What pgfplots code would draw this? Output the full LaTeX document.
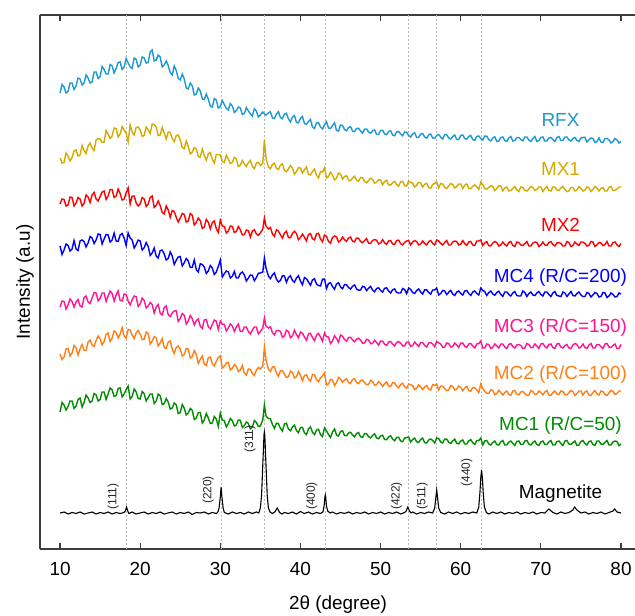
\documentclass[border=0pt]{standalone}
\usepackage{fontspec}
\setmainfont{Liberation Sans}
\usepackage{pgfplots}
\usepackage{pgfplotstable}
\pgfplotsset{compat=1.18}

\definecolor{crfx}{RGB}{28,152,210}
\definecolor{cmx1}{RGB}{212,170,0}
\definecolor{cmx2}{RGB}{255,0,0}
\definecolor{cmc4}{RGB}{0,0,255}
\definecolor{cmc3}{RGB}{255,20,147}
\definecolor{cmc2}{RGB}{255,127,20}
\definecolor{cmc1}{RGB}{0,140,0}
\definecolor{axgray}{RGB}{60,60,60}
\definecolor{dgray}{RGB}{185,185,185}

% values are pixel heights measured from the top of the picture
\pgfplotstableread{
x rfx mx1 mx2 mc4 mc3 mc2 mc1
10.0 93 158 204 246 307 354 412
10.25 84.5 163 199 254.5 301 359.5 402.5
10.5 87 162.5 199.5 250 301.5 357 405
10.75 93 153 206 244 309 349 410
11.0 91.5 156 205 245.5 305 348.5 406.5
11.25 83 161 197 251 299 356 401
11.5 83 157.5 197.5 249 301.5 353 401
11.75 89.5 151 206 240.5 307 345.5 408.5
12.0 86 150 203 249 302 348 406
12.25 78 156 197.5 250.5 299.5 355 399.5
12.5 79 155 199 241 306 349 398
12.75 85 145.5 206 240 307 344.5 407
13.0 83 150.5 203.5 241.5 297.5 350.5 402.5
13.25 75 153.5 195 247 296 350.5 395
13.5 78 146 197 243 302 342 398
13.75 83 143 202.5 236.5 303.5 340 402.5
14.0 82 148 195 238 298 345 401
14.25 72 150.5 192.5 243.5 292.5 346.5 393.5
14.5 72 140 199 240 293 340.5 395
14.75 78.5 138.5 201 234 301 336 401
15.0 76.5 139 196.5 234.5 298.5 339 399.5
15.25 66.5 142.5 192 244 293 345 392
15.5 69.5 142 191 239 293 341.5 392
15.75 74 130.5 199.5 234.5 301.5 334.5 399.5
16.0 74 134 196 235 296 333 394
16.25 64.5 138.5 189.5 242 291 341.5 388
16.5 66 136 189.5 240 293.5 338 390
16.75 73 128 197.5 233 301 331 396.5
17.0 68.5 128.5 196 241 295 332.5 395.5
17.25 62.5 137 189 241.5 291 338 388.5
17.5 62 134 193.5 235 300.5 334 388
17.75 69.5 126.5 200 233.5 301 327.5 397
18.0 67 130 199 238 294 336 394
18.25 58.5 133 193 245.5 294.5 338 389.5
18.5 63 142 188 233 301 329.5 386
18.75 67 125 204 238 305 330 399
19.0 68.5 132 196 240 299.5 335 396.5
19.25 58 135 196 248 296 338.5 389
19.5 59.5 127.5 203 244.5 296.75 333 392
19.75 67 127 206 240 306.5 330.5 398.5
20.0 65 130 204 241 304 334 399
20.25 57 136.5 197.5 250 298 339.5 391.5
20.5 58 135.3 199 247.75 300.5 339.25 393.75
20.75 63 127 206.5 242.5 308 332 401
21.0 62.5 129.7 204 246.5 306 333.5 397.5
21.25 52 133.5 197.5 255.5 302.5 344 394
21.5 50 124 196 253 304.5 341 394
21.75 61 124.5 207.5 248 313 336.5 403.5
22.0 60 127 205.3 256 307 338 401
22.25 55 135.5 201 258 304.5 346 394
22.5 57 135 205.7 250.5 313.25 342.75 395.75
22.75 67 127.5 212.5 250 315 338.5 404.5
23.0 65 133 214 254 307.5 347.5 403.5
23.25 61 139 206 260 306 348.5 398.5
23.5 65.5 132 210 258.5 314.75 342 402
23.75 72.5 132.5 217.5 252 316.5 341 409
24.0 75 138.5 210.5 256 313 349 408
24.25 66 141.5 211.5 264.5 311 353.5 403
24.5 70.5 135.75 217.25 260.25 310.75 347.5 404.75
24.75 78.5 135 222 257 321.5 346 413.5
25.0 80 140 218 256.5 318.5 349 412.5
25.25 74 147.5 213.5 266 313.5 356 404.5
25.5 79 148.75 214.5 262.75 315.25 354.5 408.25
25.75 88 141 222 258.5 324 348.5 415
26.0 89 146.5 221 261 321 349 413
26.25 83 154 213.5 267.5 315.5 358 408.5
26.5 86 152.25 215.25 267.25 318.75 356.75 410.5
26.75 95 147.5 225 260 325 350.5 419.5
27.0 94 149 222.5 269.5 320.5 354.5 418
27.25 88 156.5 218 272 319 363.5 412.5
27.5 91 157.25 220.75 263.75 326.25 359.25 412.5
27.75 99 149 228.5 264.5 328.5 356 423
28.0 99.5 155.5 227 267 320 364 420
28.25 94 160 219.5 273.5 319.5 365.5 413.5
28.5 99 153.75 222.25 271 326.75 357.75 418
28.75 106 152.5 229 265.5 329 357 423.5
29.0 107 159 222.5 268 324.5 363.5 423
29.25 98.5 163 221 274.5 320 366 416.5
29.5 100 154.5 228.75 272 321.25 361.25 419
29.75 108 154.5 232.5 266.5 329.5 357.5 426.5
30.0 106.5 155 220 260 321 356 413
30.25 100.5 161.5 226 277 324 368 420
30.5 104.5 162.5 226.5 273.75 324.5 366.25 420.75
30.75 108.5 155 233 271 331 363 427
31.0 110 159 231 272 328 362.5 423.5
31.25 103.5 163.5 226 278 324 370 418.5
31.5 106 162.5 226.5 276.25 326 368.25 420.75
31.75 112.5 157.5 232.5 271.5 331.5 364.5 426
32.0 110.5 159 231.5 278 327 366.5 425
32.25 107 166.5 226.5 278 324 371.5 420
32.5 108 165 229.75 273.5 331.5 370 420.5
32.75 114.5 160.5 235 272 331.5 365.5 427.5
33.0 113.5 164 234.5 275 327 373 425.5
33.25 107.5 166.5 230 281 327 375 422
33.5 111 162.75 230.75 278 331.5 369 423.5
33.75 114 160.5 237 275 334 369.5 429
34.0 116 166.5 231 275.5 330 373.5 427
34.25 108.75 168.75 229.75 280.75 327 375.5 420.5
34.5 111 163 234 277.5 327 370 422.5
34.75 117 162.5 235.25 273.25 334 367.5 426.5
35.0 115 165.5 233 273 331.5 369 426
35.3 112 163 229 272 328 366 420
35.5 114 140 218 258 318 347 405
35.7 115 158 226 268 326 360 416
36.0 113 167 229 276 328 369 418.5
36.25 111.75 168.75 227.5 278.75 326.75 371.5 418.75
36.5 118 164.5 234 275 332.5 367 424.5
36.75 118.5 163.25 236.4 272.9 334.9 366.75 428.4
37.0 114 168.5 229.75 279.25 330.75 373 423.25
37.25 111.75 169.5 231 281.9 330.4 376.4 423.75
37.5 117.5 165 234.75 280.5 331.5 370.75 428.25
37.75 118.75 163.75 238.1 275.75 337.25 370.6 431.1
38.0 114 170.5 233 276 336 374 424
38.25 113.25 171.75 231.25 282.25 330.25 377.4 423.25
38.5 119 169 237.5 277.5 331.5 376.75 429
38.75 121.75 165.5 237.75 275.75 337.75 371.1 430.75
39.0 117 168 233.5 280.5 336 372.5 427
39.25 115.5 174.25 231.25 282.25 330.25 377.9 425.25
39.5 122.5 171.5 233.5 278 334.5 376.75 430.5
39.75 122.75 167.75 239.75 275.75 337.75 371.6 432.75
40.0 118.5 168 237.5 281 332 375 427.5
40.25 116.5 173.1 234.1 284.75 333.25 380.75 427.4
40.5 123.5 169.75 237.25 277.5 337 375.5 432.75
40.75 124.25 166.9 240.9 278.75 340.25 374.75 434.6
41.0 121.5 174.5 234.5 282 334 379 429
41.25 119.5 175 233.6 285.25 333.25 381.25 426.9
41.5 127 171.5 238.75 280 337.5 374.5 432.25
41.75 128.5 169 239.9 278.75 340.75 374.75 434.6
42.0 123 175 234 284 335.5 379.5 430
42.25 122.5 178 233.25 285.5 333.5 381.75 429.25
42.5 127 171.5 239 286 337 378 434.5
42.75 129 172 241.75 279.25 341.25 375.75 436.6
43.0 125 168 235 279 333 373 428
43.25 121.75 178 236.25 288.5 336.75 385 430.9
43.5 128 176.5 241.5 283.5 337 384 434.5
43.75 128.5 172.25 243.25 282.75 343.5 379.5 437.5
44.0 125.5 175 237.5 286.5 341 380 432
44.25 122.75 180 236 289.25 335.75 385.5 429
44.5 130.5 178 237 284 338.5 382.5 435
44.75 131 173 242 282.75 342.25 377.5 436
45.0 125 174 240.5 287 335 379 431.5
45.25 125.5 179.25 237.1 288.75 336.25 382.25 430.75
45.5 129.5 176.5 239.75 284.5 339.5 380 435.5
45.75 130.75 175.75 241.4 284.75 341.25 378.75 435.75
46.0 127.5 180 238 287.5 337.5 382.5 433
46.25 126.75 180.75 237.1 289.1 337.25 383.6 432.25
46.5 131 178 241.25 286.25 340 379.25 435
46.75 131.5 176.25 241.9 284.9 341.75 378.9 436.75
47.0 128.5 180 238 289 339 382.5 433.5
47.25 128.25 181.25 238.25 290.25 338.25 383.6 432.6
47.5 131 177.5 241.5 290 340 380.75 436.75
47.75 133.25 177.75 242.75 286.25 343.25 379.9 437.4
48.0 129 181.5 240.5 287 343 382.5 433.5
48.25 129 182.75 238.6 290.6 339.25 384.75 433.6
48.5 132 180.5 243.25 288.25 340 384.5 436.75
48.75 133.25 178.25 243.4 286.4 343.75 380.25 437.9
49.0 131 179.5 240.5 290 343.5 381.5 435.5
49.25 129.75 183.25 239.6 291.75 340.25 385.25 433.75
49.5 134.5 182 240.25 288.5 342.5 384.5 438
49.75 134.5 179.75 243.9 287.75 345.25 381.75 438.75
50.0 130.5 180 243 290.5 341 383.5 436
50.25 130.25 184.75 239.6 292.1 341.1 386.6 435.25
50.5 134 181.5 242.75 288.25 344.25 383.75 439.5
50.75 134.5 180.25 244.4 287.9 345.4 381.9 439.75
51.0 131.5 185 241 291 342 386 437
51.25 130.75 185.1 240.5 293.1 341.5 386.6 435.75
51.5 135 182.75 244 289.75 344 382.75 439
51.75 135.75 181.4 244.5 288.9 346 382.9 440.75
52.0 132 184.5 240.5 292.5 342.5 386 437.5
52.25 131.5 186.1 240.1 293 341.6 387.75 437.25
52.5 134 181.75 243.75 293 343.25 384.5 441
52.75 135.75 181.4 244.9 288.5 345.9 383.25 441.75
53.0 132 185.5 242.5 289.5 346 386.5 438
53.25 132.25 186.1 241 293.6 342 388.25 437.5
53.5 135.5 181 240.5 288 342 384 437
53.75 137 182.4 245 289.4 346.5 384.75 442
54.0 134 183 242 292.5 345.5 385.5 439.5
54.25 132.75 187.1 240.5 293.5 342.1 389.6 438.1
54.5 137.5 185.25 241.5 290.5 344.25 388.25 441.75
54.75 137.25 182.4 245 289 346.4 384.9 442.4
55.0 134 183 244 292 342.5 387 439.5
55.25 133.5 187.1 241 294.1 342.5 389.5 438.1
55.5 137 184.25 243.5 289.75 345.5 387 442.75
55.75 138.25 183.4 245 289.9 347 385.5 442.9
56.0 135 187.5 241.5 292.5 343 389 440
56.25 134 188.1 240.5 294.1 342.6 390.1 439
56.5 138 184.5 243.5 290 344 384.5 440.5
56.75 138.25 183.4 245 289.9 346.75 385.4 443
57.0 135.5 182 240 288 341.5 384 438
57.25 134.5 188 241 295 342.75 390 438.5
57.5 137 183.5 243.5 293.5 344 386 442
57.75 139 184 245 290.5 347.4 386 443
58.0 134.5 187.5 242.5 291 347 388.5 439
58.25 134.75 188.5 240.5 294.6 343 390.5 439.1
58.5 138 186 245 292.25 343.5 390 442.25
58.75 139 183.5 245 290.4 347 385.5 443.4
59.0 136.5 184.5 242 294 346.5 386.5 441
59.25 135 188 241 295.5 343 390 439.1
59.5 139.5 186.5 241.5 292 345 389 443.25
59.75 139.5 184 245 291 347.5 386 443.9
60.0 135.5 184 244 293.5 343 387.5 441
60.25 135 188.6 240.6 295 343.1 390.75 440
60.5 138.5 185.25 243.75 291 346.25 388 444
60.75 139.25 183.9 245.4 290.5 347.4 386.25 444
61.0 136.5 188.5 242 293.5 344 390.5 441
61.25 135.5 188.6 241.5 295.5 343.5 391.25 439.6
61.5 139.5 186.25 245 292 346 387.5 442.75
61.75 140.25 184.9 245.5 291 348 387.75 444.4
62.0 136.5 187 241 293.5 344 390 440.5
62.25 136 189.5 241 295 343.6 392.75 440.6
62.5 138.5 182 240 288 341 384 438
62.75 140 184.5 245.5 290.5 347.9 388.25 444.9
63.0 136 188.5 243 291.5 348 391.5 441
63.25 136.25 189.25 241.6 295.5 344 393.25 440.5
63.5 139.5 187.5 245.75 292.5 344.5 393.5 444
63.75 141 185.75 245.9 291 348.5 389.75 445
64.0 138 186.5 243 294 347.5 390.5 442.5
64.25 136.75 190.5 241.5 295.25 344 394.75 441
64.5 141.5 188.5 242.5 292.5 346 393.5 444.5
64.75 141 185.75 246 291.25 348 390.25 445
65.0 137.5 186 245 294.5 344 392.5 442
65.25 137 191 242 296.5 344 395 440.5
65.5 140.5 188 244.5 292 347 392.5 445
65.75 141.5 187 246 292 348.5 391 445
66.0 138 191 242.5 294.5 344.5 394.5 442
66.25 136.5 190.5 241.5 296 343.5 395.5 441
66.5 141 188.5 245.5 293 346.5 391 443.5
66.75 140.5 186.5 246.5 291.5 348 390.5 445.5
67.0 137.5 190 242 295.5 345 394 441.5
67.25 137.5 191.5 242.5 296 344.5 395 441
67.5 139.5 187 245 296 345.5 392 444.5
67.75 141 187.5 245.5 291 348.5 391.5 444.5
68.0 137 190.5 243.5 292.5 348 393.5 441
68.25 137 191 241.5 296.5 343.5 395.5 440.5
68.5 140 189 246 293.5 344.5 395 444
68.75 141.5 186.5 246 292 347.5 390.5 445
69.0 138.5 187.5 243 295 347.5 391.5 442.5
69.25 136.5 190.5 242 295.5 344 394.5 441
69.5 141.5 189.5 242.5 293 346 394 444.5
69.75 140.5 187 246.5 291.5 348.5 391 445.5
70.0 137.5 187 245 294.5 344 392.5 442
70.25 137 191.5 242 296 343.5 395 441
70.5 141 188.5 245 292 346.5 392 444.5
70.75 141 186.5 245.5 292 348 390.5 444.5
71.0 138 190.5 242.5 294.5 344.5 395 442
71.25 137.5 191 241.5 296.5 344 395.5 440.5
71.5 139.5 187 244.5 293 347.5 392.5 445
71.75 141.5 187 246 291.5 348.5 391 445
72.0 137.5 190 243 295.5 344 394 441.5
72.25 136.5 190.5 242.5 296 343.5 394.5 441
72.5 140.5 188 243.5 296.5 347 391 443.5
72.75 140.5 186.5 246 292 348 391.5 445.5
73.0 137 189.5 246 293 345.5 394.5 441
73.25 137 191.5 241.5 296.5 344.5 395 440.5
73.5 140 191 242.5 294 348 393 444
73.75 141 187.5 246.5 291.5 348.5 390.5 444.5
74.0 138.5 187.5 245.5 295.5 345 391.5 442.5
74.25 137.5 191 242 296 343.5 395.5 441
74.5 140.5 190 244 293.5 344.5 393.5 445.5
74.75 141.5 186.5 245.5 292 348 391 445
75.0 138 188.5 242 295 347 391 441.5
75.25 137.5 191 242 296.5 344 395 440.5
75.5 137.25 190 243.5 296.5 347.5 392 443.5
75.75 142 187 246 292.5 348.5 391 445
76.0 140 187.5 245.5 293.5 345 395 441.5
76.25 138 191.5 241.5 297 343.5 395.5 441
76.5 138.5 189.5 242 295 348 392.5 444.5
76.75 142.5 186.5 246.5 292.5 348 390.5 445.5
77.0 141.5 188 245 293.5 344.5 394 441
77.25 138 191 242.5 297 344.5 395 441
77.5 142 188.5 243 296.5 346.5 391 444
77.75 142.5 187.5 245.5 292.5 348.5 391.5 444.5
78.0 138.5 191 244.5 293 344 394.5 442.5
78.25 138.5 191 241.5 297.5 343.5 395.5 440.5
78.5 140 187.5 246 296 347 393 445
78.75 143 186.5 246 293 347.5 390.5 445
79.0 141.5 190.5 242.5 294.5 345.5 391.5 442
79.25 138.5 190.5 242 297 344 394.5 441
79.5 140 189 245 296.5 348.5 393.5 441.5
79.75 143 187 246.5 293 348.5 391 445.5
80.0 141.5 187 243.5 294 344.5 391 444
}\amorph

\pgfplotstableread{
x y
10 513
10.5 512
11 514
11.5 512.5
12 513.5
12.5 512
13 514
13.5 513
14 512
14.5 514
15 512.5
15.5 513.5
16 512
16.5 514
17 512.5
17.5 513.5
18 512.5
18.15 511
18.3 507
18.45 511
18.6 513.5
19 512
19.5 514
20 513
20.5 512
21 514
21.5 512.5
22 513.5
22.5 512
23 514
23.5 513
24 512
24.5 514
25 512.5
25.5 513.5
26 512
26.5 514.5
27 512.5
27.5 513
28 512
28.5 514
29 512.5
29.5 513.5
29.7 512
29.85 508
30.0 497
30.1 487
30.2 497
30.35 508
30.5 512.5
31 514
31.5 512
32 513.5
32.5 512.5
33 514
33.5 512
34 513.5
34.5 512
34.8 513
35.0 508
35.15 495
35.3 465
35.45 435
35.5 432
35.55 435
35.7 465
35.85 495
36.0 508
36.2 512
36.5 513.5
36.8 512
37.1 508
37.4 512.5
37.7 514
38 512.5
38.5 513.5
39 512
39.5 514
40 511.5
40.5 513.5
41 512
41.5 514
42 512.5
42.5 513.5
42.8 512
42.95 506
43.05 497
43.1 495
43.15 497
43.25 506
43.4 511
43.7 513
44 512
44.5 514
45 512.5
45.5 513.5
46 512
46.5 514
47 512.5
47.5 513.5
48 512
48.5 514
49 512.5
49.5 513.5
50 512
50.5 514
51 512.5
51.5 513.5
52 512
52.5 514
53 512.5
53.2 511
53.4 507
53.6 511
53.8 513
54 512
54.5 514
55 512.5
55.5 513.5
56 512
56.5 513
56.75 508
56.9 497
57.0 490
57.1 497
57.25 508
57.5 512.5
58 514
58.5 512
59 513.5
59.5 512
60 514
60.5 512.5
61 513.5
61.5 512
62 513
62.25 507
62.4 492
62.5 478
62.6 470
62.7 478
62.8 492
62.95 507
63.2 512.5
63.5 514
64 512
64.5 513.5
65 512
65.5 514
66 512.5
66.5 513.5
67 512
67.5 514
68 512.5
68.5 513.5
69 512
69.5 514
70 512.5
70.5 513
71 509
71.5 512.5
72 514
72.5 512
73 513.5
73.5 512.5
74 510
74.2 507
74.5 510
75 513
75.5 512
76 514
76.5 512.5
77 513.5
77.5 512
78 514
78.5 512.5
79 511
79.2 509
79.5 512
80 513
}\magnetite

\begin{document}
\begin{tikzpicture}
\path[use as bounding box] (-40bp,-67bp) rectangle (595bp,549bp);
\begin{axis}[
  at={(0,0)}, anchor=south west,
  scale only axis, width=596bp, height=534bp,
  xmin=7.5, xmax=81.87, ymin=-549, ymax=-15,
  axis x line=box, axis y line=left,
  y axis line style={-},
  axis line style={axgray, line width=1.4bp},
  xtick={10,20,...,80}, ytick=\empty,
  tick align=inside, major tick length=6bp,
  every tick/.style={axgray, line width=1.2bp},
  /pgf/number format/assume math mode=true,
  ticklabel style={font=\fontsize{19}{21}\selectfont},
  xticklabel style={inner sep=0pt, anchor=north, yshift=-13bp},
  xlabel={2θ (degree)}, ylabel={Intensity (a.u)},
  label style={font=\fontsize{19}{21}\selectfont},
  x label style={at={(axis description cs:0.5,0)}, anchor=base, yshift=-60bp},
  y label style={at={(axis description cs:-0.0168,0.5)}, anchor=base},
  clip=true,
]
% reference lines of the magnetite reflections
\addplot[dgray, dash pattern=on 2bp off 2bp, line width=0.9bp] coordinates {(18.3,-549) (18.3,-15)};
\addplot[dgray, dash pattern=on 2bp off 2bp, line width=0.9bp] coordinates {(30.1,-549) (30.1,-15)};
\addplot[dgray, dash pattern=on 2bp off 2bp, line width=0.9bp] coordinates {(35.5,-549) (35.5,-15)};
\addplot[dgray, dash pattern=on 2bp off 2bp, line width=0.9bp] coordinates {(43.1,-549) (43.1,-15)};
\addplot[dgray, dash pattern=on 2bp off 2bp, line width=0.9bp] coordinates {(53.5,-549) (53.5,-15)};
\addplot[dgray, dash pattern=on 2bp off 2bp, line width=0.9bp] coordinates {(57.0,-549) (57.0,-15)};
\addplot[dgray, dash pattern=on 2bp off 2bp, line width=0.9bp] coordinates {(62.6,-549) (62.6,-15)};

\addplot[crfx, line width=1.4bp] table[x=x, y expr=-\thisrow{rfx}] {\amorph};
\addplot[cmx1, line width=1.4bp] table[x=x, y expr=-\thisrow{mx1}] {\amorph};
\addplot[cmx2, line width=1.4bp] table[x=x, y expr=-\thisrow{mx2}] {\amorph};
\addplot[cmc4, line width=1.4bp] table[x=x, y expr=-\thisrow{mc4}] {\amorph};
\addplot[cmc3, line width=1.4bp] table[x=x, y expr=-\thisrow{mc3}] {\amorph};
\addplot[cmc2, line width=1.4bp] table[x=x, y expr=-\thisrow{mc2}] {\amorph};
\addplot[cmc1, line width=1.4bp] table[x=x, y expr=-\thisrow{mc1}] {\amorph};
\addplot[black, line width=1.1bp] table[x=x, y expr=-\thisrow{y}] {\magnetite};

\begin{scope}[every node/.style={anchor=base, font=\fontsize{19}{21}\selectfont, inner sep=0pt}]
\node[crfx] at (axis cs:72.45,-126.7) {RFX};
\node[cmx1] at (axis cs:72.45,-176) {MX1};
\node[cmx2] at (axis cs:72.45,-231.7) {MX2};
\node[cmc4] at (axis cs:72.45,-282.7) {MC4 (R/C=200)};
\node[cmc3] at (axis cs:72.45,-332.7) {MC3 (R/C=150)};
\node[cmc2] at (axis cs:72.45,-380) {MC2 (R/C=100)};
\node[cmc1] at (axis cs:72.45,-431) {MC1 (R/C=50)};
\node[black] at (axis cs:72.45,-499) {Magnetite};
\end{scope}

\begin{scope}[every node/.style={rotate=90, anchor=center, font=\fontsize{12}{13}\selectfont, inner sep=0pt, text=black!85}]
\node at (axis cs:16.65,-496.5) {(111)};
\node at (axis cs:28.5,-490) {(220)};
\node at (axis cs:33.7,-439) {(311)};
\node at (axis cs:41.4,-496) {(400)};
\node at (axis cs:52.0,-496) {(422)};
\node at (axis cs:55.2,-496) {(511)};
\node at (axis cs:60.75,-472.5) {(440)};
\end{scope}
\end{axis}
\end{tikzpicture}
\end{document}
